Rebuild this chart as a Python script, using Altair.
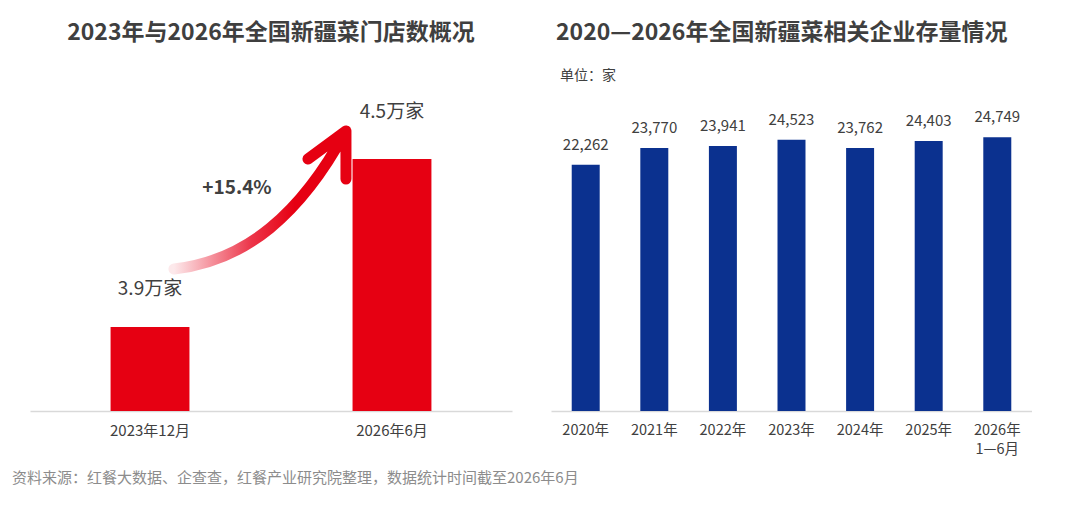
import altair as alt
import pandas as pd

# ---------------- data ----------------
store_periods = ["2023年12月", "2026年6月"]
store_counts = [3.9, 4.5]            # 万家
store_labels = ["3.9万家", "4.5万家"]
growth_label = "+15.4%"

ent_years = ["2020年", "2021年", "2022年", "2023年", "2024年", "2025年", "2026年1—6月"]
ent_counts = [22262, 23770, 23941, 24523, 23762, 24403, 24749]

title_left = "2023年与2026年全国新疆菜门店数概况"
title_right = "2020—2026年全国新疆菜相关企业存量情况"
unit_text = "单位：家"
source_text = "资料来源：红餐大数据、企查查，红餐产业研究院整理，数据统计时间截至2026年6月"

# ---------------- style ----------------
FONT = "Noto Sans CJK SC"
RED = "#e60012"
BLUE = "#0b318f"
DARK = "#404040"
GRAY = "#8c8c8c"
W_L, W_R, H = 482, 481, 343

left_df = pd.DataFrame({"period": store_periods, "count": store_counts, "label": store_labels})
right_df = pd.DataFrame({"year": ent_years, "count": ent_counts})
one_df = pd.DataFrame({"k": [0]})

axis_common = dict(title=None, labelAngle=0, ticks=False, domainColor="#d9d9d9",
                   domainWidth=1.5, labelFont=FONT, labelColor=DARK, labelPadding=12)

# ---------------- left panel ----------------
x_left = alt.X("period:N", sort=store_periods,
               scale=alt.Scale(paddingInner=0.674, paddingOuter=0.333),
               axis=alt.Axis(**axis_common, labelFontSize=15))
y_left = alt.Y("count:Q", scale=alt.Scale(domain=[3.6, 4.825], zero=False, nice=False, clamp=True),
               axis=None)

base_l = alt.Chart(left_df)
bars_l = base_l.mark_bar(color=RED).encode(x=x_left, y=y_left)
lab_l1 = base_l.transform_filter(alt.datum.period == store_periods[0]).mark_text(
    dy=-38, fontSize=19, font=FONT, color=DARK, baseline="middle"
).encode(x=x_left, y=y_left, text="label:N")
lab_l2 = base_l.transform_filter(alt.datum.period == store_periods[1]).mark_text(
    dy=-47, fontSize=19, font=FONT, color=DARK, baseline="middle"
).encode(x=x_left, y=y_left, text="label:N")

ARROW_PATH = ("M -0.967 0.778 C -0.167 0.689 0.444 0.167 0.944 -0.756 "
              "M 0.522 -0.444 L 0.944 -0.756 L 0.944 -0.222")
arrow = alt.Chart(one_df).mark_point(
    shape=ARROW_PATH, size=32400, filled=False, opacity=1, strokeWidth=11,
    strokeCap="round", strokeJoin="round",
    stroke=alt.Gradient(gradient="linear", x1=0, y1=0, x2=1, y2=0,
                        stops=[alt.GradientStop(offset=0, color="#fde9eb"),
                               alt.GradientStop(offset=0.45, color="#ec3549"),
                               alt.GradientStop(offset=0.7, color=RED),
                               alt.GradientStop(offset=1, color=RED)])
).encode(x=alt.value(231), y=alt.value(131))

growth = alt.Chart(one_df).mark_text(
    text=growth_label, fontSize=19, font=FONT, fontWeight="bold", color=DARK,
    baseline="middle", align="center"
).encode(x=alt.value(207), y=alt.value(120))

footer = alt.Chart(one_df).mark_text(
    text=source_text, fontSize=15, font=FONT, color=GRAY, align="left", baseline="middle"
).encode(x=alt.value(-18), y=alt.value(410))

left = alt.layer(bars_l, lab_l1, lab_l2, arrow, growth, footer).properties(
    width=W_L, height=H,
    title=alt.TitleParams(title_left, font=FONT, fontSize=23, fontWeight="bold",
                          color="#3f3f3f", anchor="middle", offset=23)
)

# ---------------- right panel ----------------
x_right = alt.X("year:N", sort=ent_years,
                scale=alt.Scale(paddingInner=0.592, paddingOuter=0.302),
                axis=alt.Axis(**axis_common, labelFontSize=14.5, labelLineHeight=19,
                              labelExpr="datum.label == '2026年1—6月' ? ['2026年', '1—6月'] : datum.label"))
y_right = alt.Y("count:Q", scale=alt.Scale(domain=[0, 31000], nice=False), axis=None)

base_r = alt.Chart(right_df)
bars_r = base_r.mark_bar(color=BLUE).encode(x=x_right, y=y_right)
lab_r = base_r.mark_text(dy=-20, fontSize=15, font=FONT, color=DARK, baseline="middle").encode(
    x=x_right, y=y_right, text=alt.Text("count:Q", format=",")
)
unit = alt.Chart(one_df).mark_text(
    text=unit_text, fontSize=14, font=FONT, color=DARK, align="left", baseline="middle"
).encode(x=alt.value(9), y=alt.value(8))

right = alt.layer(bars_r, lab_r, unit).properties(
    width=W_R, height=H,
    title=alt.TitleParams(title_right, font=FONT, fontSize=23, fontWeight="bold",
                          color="#3f3f3f", anchor="start", dx=5, offset=23)
)

chart = alt.hconcat(left, right, spacing=39, bounds="flush").properties(
    padding={"left": 12, "top": 22, "right": 0, "bottom": 0},
    background="white"
).configure_view(stroke=None)

chart.save("out.html", embed_options={"renderer": "svg", "actions": False})
